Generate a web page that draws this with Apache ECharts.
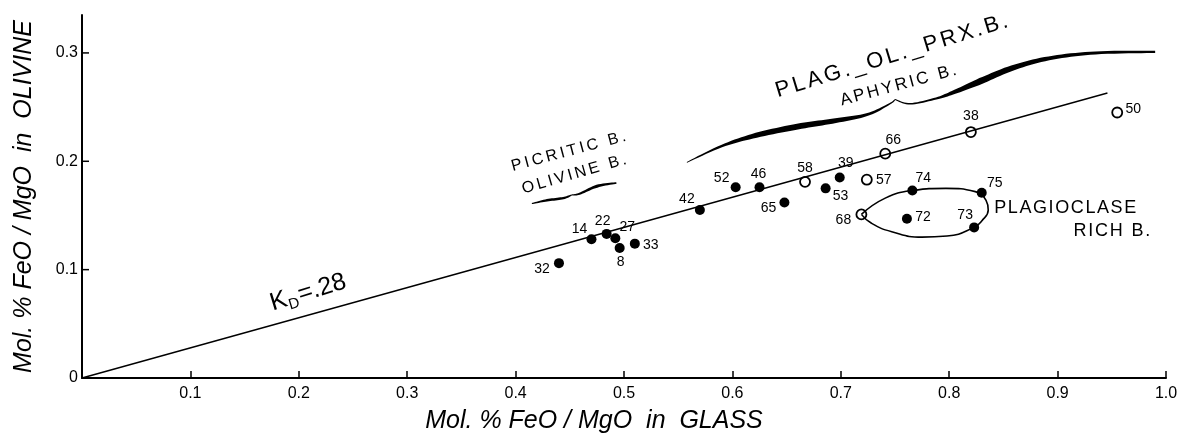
<!DOCTYPE html>
<html>
<head>
    <meta charset="utf-8">
    <title>KD olivine / glass</title>
    <script src="https://cdn.jsdelivr.net/npm/echarts@6/dist/echarts.min.js"></script>
    <style>
        body { margin: 0; background: #fff; }
    </style>
</head>
<body>
    <div id="main" style="width: 1187px;height:439px;"></div>
    <script type="text/javascript">
        // solid dots
        var filledNames = ['32', '14', '22', '27', '8', '33', '42', '52', '46', '65', '53', '39', '74', '75', '72', '73'];
        var filledX = [0.440, 0.470, 0.484, 0.492, 0.496, 0.510, 0.570, 0.603, 0.625, 0.648, 0.686, 0.699, 0.766, 0.830, 0.761, 0.823];
        var filledY = [0.106, 0.128, 0.133, 0.129, 0.120, 0.124, 0.155, 0.176, 0.176, 0.162, 0.175, 0.185, 0.173, 0.171, 0.147, 0.139];
        // open circles
        var openNames = ['58', '57', '66', '38', '68', '50'];
        var openX = [0.667, 0.724, 0.741, 0.820, 0.719, 0.955];
        var openY = [0.181, 0.183, 0.207, 0.227, 0.151, 0.245];
        // KD = .28 line
        var kdLine = [[0, 0], [0.946, 0.263]];
        // plagioclase rich loop
        var loopLine = [[0.719, 0.151], [0.741, 0.166], [0.766, 0.173], [0.797, 0.175], [0.824, 0.172],
            [0.834, 0.164], [0.836, 0.155], [0.830, 0.145], [0.823, 0.139], [0.798, 0.131],
            [0.775, 0.130], [0.747, 0.135], [0.728, 0.143], [0.719, 0.151]];
        // braces (centre lines)
        var bigBraceL = [[0.558, 0.199], [0.590, 0.214], [0.622, 0.224], [0.660, 0.232], [0.692, 0.237], [0.724, 0.243], [0.745, 0.253], [0.750, 0.257]];
        var bigBraceR = [[0.750, 0.257], [0.764, 0.253], [0.788, 0.258], [0.805, 0.264], [0.829, 0.274], [0.858, 0.286], [0.892, 0.295], [0.935, 0.300], [0.990, 0.301]];
        var smallBraceL = [[0.415, 0.161], [0.429, 0.164], [0.444, 0.166], [0.452, 0.169]];
        var smallBraceR = [[0.452, 0.169], [0.459, 0.170], [0.475, 0.177], [0.493, 0.180]];
        var yTicks = [0, 0.1, 0.2, 0.3];
        var annoText = ['PLAG._OL._PRX.B.', 'APHYRIC B.', 'PICRITIC B.', 'OLIVINE B.', 'PLAGIOCLASE', 'RICH B.'];
        var annoX = [0.747, 0.753, 0.449, 0.454, 0.907, 0.950];
        var annoY = [0.297, 0.270, 0.209, 0.188, 0.157, 0.136];

        // styling (not data)
        var FONT = 'Liberation Sans';
        var annoRot = [17, 15, 15, 16, 0, 0];
        var annoSize = [22, 17, 16, 16, 18, 18];
        var annoSpace = [3, 2.6, 3, 2.8, 1.6, 1.8];
        var braceW = {
            bigL: [0.8, 2.5, 5, 6, 5, 3, 1.5, 1],
            bigR: [1, 1.5, 2, 4, 6.5, 5.5, 4, 3, 2.2],
            smallL: [1, 2.5, 2.5, 1],
            smallR: [1, 2, 3, 1.5]
        };
        var labelOff = {
            '32': [-17, 6], '14': [-12, -10], '22': [-4, -13], '27': [12, -11], '8': [1, 14], '33': [16, 2],
            '42': [-13, -11], '52': [-14, -9], '46': [-1, -13], '65': [-16, 6], '58': [0, -14], '53': [15, 8],
            '39': [6, -14], '57': [17, 0], '66': [8, -14], '38': [0, -16], '74': [11, -12], '75': [13, -10],
            '68': [-18, 6], '72': [16, -2], '73': [-9, -12], '50': [16, -3]
        };

        var measureCtx = document.createElement('canvas').getContext('2d');
        function charW(ch, size) {
            measureCtx.font = size + 'px "' + FONT + '"';
            return measureCtx.measureText(ch).width;
        }

        // text with letter spacing, centred on (x, y), rotated
        function spacedText(x, y, text, size, spacing, rotDeg) {
            var ws = [], total = 0;
            for (var i = 0; i < text.length; i++) {
                ws.push(charW(text[i], size));
                total += ws[i] + (i < text.length - 1 ? spacing : 0);
            }
            var kids = [], cx = -total / 2;
            for (var j = 0; j < text.length; j++) {
                kids.push({
                    type: 'text', x: cx, y: 0,
                    style: { text: text[j], fontFamily: FONT, fontSize: size, fill: '#000', align: 'left', verticalAlign: 'middle' }
                });
                cx += ws[j] + spacing;
            }
            return { type: 'group', x: x, y: y, rotation: rotDeg * Math.PI / 180, children: kids };
        }

        function pointData(xs, ys, names) {
            var out = [];
            for (var i = 0; i < xs.length; i++) {
                out.push({
                    name: names[i],
                    value: [xs[i], ys[i]],
                    label: { offset: labelOff[names[i]] || [0, 0] }
                });
            }
            return out;
        }

        function catmull(px, ws) {
            var pts = [], wd = [];
            for (var i = 0; i < px.length - 1; i++) {
                var p0 = px[Math.max(i - 1, 0)], p1 = px[i], p2 = px[i + 1], p3 = px[Math.min(i + 2, px.length - 1)];
                for (var s = 0; s < 10; s++) {
                    var t = s / 10, t2 = t * t, t3 = t2 * t;
                    var x = 0.5 * ((2 * p1[0]) + (-p0[0] + p2[0]) * t + (2 * p0[0] - 5 * p1[0] + 4 * p2[0] - p3[0]) * t2 + (-p0[0] + 3 * p1[0] - 3 * p2[0] + p3[0]) * t3);
                    var y = 0.5 * ((2 * p1[1]) + (-p0[1] + p2[1]) * t + (2 * p0[1] - 5 * p1[1] + 4 * p2[1] - p3[1]) * t2 + (-p0[1] + 3 * p1[1] - 3 * p2[1] + p3[1]) * t3);
                    pts.push([x, y]);
                    wd.push(ws[i] + (ws[i + 1] - ws[i]) * t);
                }
            }
            pts.push(px[px.length - 1]);
            wd.push(ws[ws.length - 1]);
            return [pts, wd];
        }

        function taper(api, line, ws) {
            var px = line.map(function (p) { return api.coord(p); });
            var r = catmull(px, ws), pts = r[0], wd = r[1];
            var a = [], b = [];
            for (var k = 0; k < pts.length; k++) {
                var p = pts[Math.max(k - 1, 0)], q = pts[Math.min(k + 1, pts.length - 1)];
                var dx = q[0] - p[0], dy = q[1] - p[1], len = Math.sqrt(dx * dx + dy * dy) || 1;
                var nx = -dy / len, ny = dx / len, h = wd[k] / 2;
                a.push([pts[k][0] + nx * h, pts[k][1] + ny * h]);
                b.push([pts[k][0] - nx * h, pts[k][1] - ny * h]);
            }
            return { type: 'polygon', shape: { points: a.concat(b.reverse()) }, style: { fill: '#000' } };
        }

        var annoData = [];
        for (var i = 0; i < annoText.length; i++) annoData.push([annoX[i], annoY[i], i]);

        var option = {
            animation: false,
            backgroundColor: '#fff',
            grid: { left: 82, right: 21, top: 15, bottom: 61 },
            xAxis: {
                type: 'value', min: 0, max: 1.0, interval: 0.1,
                name: 'Mol. % FeO / MgO  in  GLASS',
                nameLocation: 'middle', nameGap: 31,
                nameTextStyle: { fontFamily: FONT, fontStyle: 'italic', fontSize: 25, color: '#000', padding: [0, 60, 0, 0] },
                axisLine: { lineStyle: { color: '#000', width: 2 } },
                axisTick: { inside: true, length: 7, lineStyle: { color: '#000', width: 1.5 } },
                axisLabel: {
                    fontFamily: FONT, fontSize: 16, color: '#000', margin: 8,
                    formatter: function (v) { return v === 0 ? '' : v.toFixed(1); }
                },
                splitLine: { show: false }
            },
            yAxis: {
                type: 'value', min: 0, max: 0.335, interval: 0.1,
                name: 'Mol. % FeO / MgO  in  OLIVINE',
                nameLocation: 'middle', nameGap: 45,
                nameTextStyle: { fontFamily: FONT, fontStyle: 'italic', fontSize: 25, color: '#000' },
                axisLine: { lineStyle: { color: '#000', width: 2 } },
                axisTick: { show: false },
                axisLabel: {
                    fontFamily: FONT, fontSize: 16, color: '#000', margin: 4,
                    formatter: function (v) {
                        if (Math.abs(v * 10 - Math.round(v * 10)) > 1e-6) return '';
                        return v === 0 ? '0' : v.toFixed(1);
                    }
                },
                splitLine: { show: false }
            },
            series: [
                {
                    type: 'line', data: kdLine, symbol: 'none', silent: true,
                    lineStyle: { color: '#000', width: 1.4 }
                },
                {
                    type: 'line', data: loopLine, symbol: 'none', smooth: 0.5, silent: true,
                    lineStyle: { color: '#000', width: 1.6 }
                },
                {
                    type: 'custom', silent: true, data: [0],
                    renderItem: function (params, api) {
                        return {
                            type: 'group', children: [
                                taper(api, bigBraceL, braceW.bigL),
                                taper(api, bigBraceR, braceW.bigR),
                                taper(api, smallBraceL, braceW.smallL),
                                taper(api, smallBraceR, braceW.smallR)
                            ]
                        };
                    }
                },
                {
                    // y ticks, inside
                    type: 'custom', silent: true, data: yTicks.map(function (v) { return [0, v]; }),
                    renderItem: function (params, api) {
                        var p = api.coord([0, api.value(1)]);
                        return { type: 'line', shape: { x1: p[0], y1: p[1], x2: p[0] + 7, y2: p[1] }, style: { stroke: '#000', lineWidth: 1.5 } };
                    }
                },
                {
                    type: 'scatter', data: pointData(filledX, filledY, filledNames),
                    symbol: 'circle', symbolSize: 10, silent: true,
                    itemStyle: { color: '#000', opacity: 1 },
                    label: {
                        show: true, position: 'inside', formatter: '{b}',
                        fontFamily: FONT, fontSize: 14, color: '#000'
                    }
                },
                {
                    type: 'scatter', data: pointData(openX, openY, openNames),
                    symbol: 'circle', symbolSize: 10, silent: true,
                    itemStyle: { color: '#fff', borderColor: '#000', borderWidth: 1.8, opacity: 1 },
                    label: {
                        show: true, position: 'inside', formatter: '{b}',
                        fontFamily: FONT, fontSize: 14, color: '#000'
                    }
                },
                {
                    type: 'custom', silent: true, data: annoData,
                    renderItem: function (params, api) {
                        var i = api.value(2), p = api.coord([api.value(0), api.value(1)]);
                        return spacedText(p[0], p[1], annoText[i], annoSize[i], annoSpace[i], annoRot[i]);
                    }
                },
                {
                    // K_D = .28
                    type: 'custom', silent: true, data: [[0.212, 0.080]],
                    renderItem: function (params, api) {
                        var p = api.coord([api.value(0), api.value(1)]);
                        return {
                            type: 'group', x: p[0], y: p[1], rotation: 17 * Math.PI / 180,
                            children: [
                                { type: 'text', x: -43, y: 0, style: { text: 'K', fontFamily: FONT, fontSize: 25, fill: '#000', align: 'left', verticalAlign: 'middle' } },
                                { type: 'text', x: -26, y: 7, style: { text: 'D', fontFamily: FONT, fontSize: 15, fill: '#000', align: 'left', verticalAlign: 'middle' } },
                                { type: 'text', x: -14, y: 0, style: { text: '=.28', fontFamily: FONT, fontSize: 25, fill: '#000', align: 'left', verticalAlign: 'middle' } }
                            ]
                        };
                    }
                }
            ]
        };
        var myChart = echarts.init(document.getElementById('main'));
        myChart.setOption(option);
    </script>
</body>
</html>
